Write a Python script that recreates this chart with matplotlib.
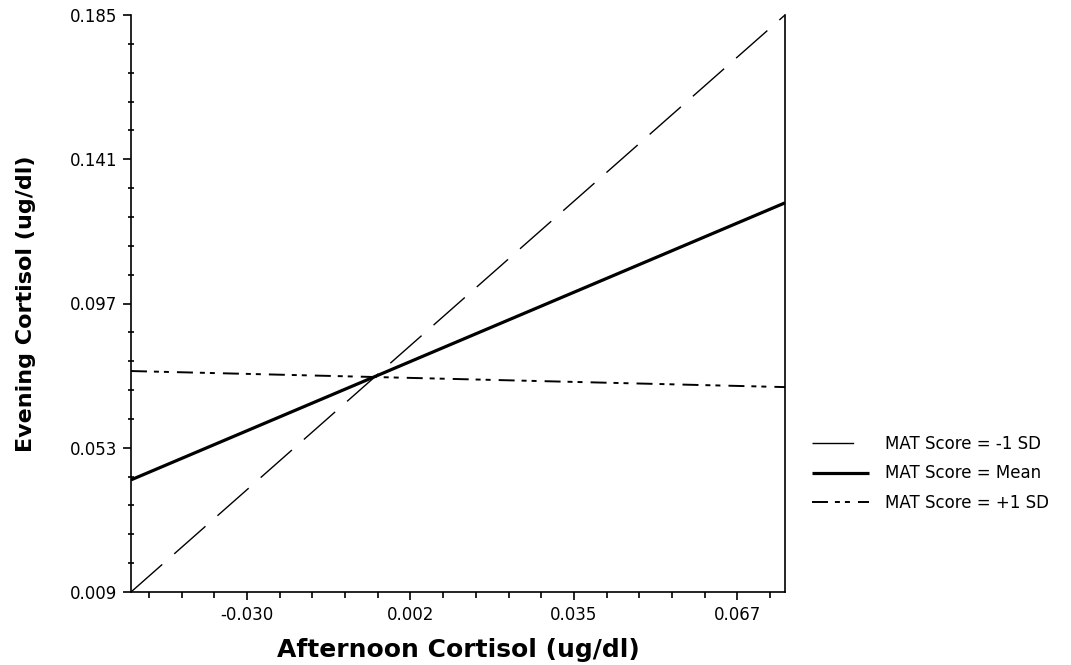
import matplotlib
matplotlib.use("Agg")
import matplotlib.pyplot as plt
from matplotlib.ticker import FixedLocator, MultipleLocator

# end points of the three simple-slope lines
afternoon = [-0.0531, 0.0770]
evening_low = [0.009, 0.185]      # MAT score = -1 SD
evening_mean = [0.0432, 0.1277]   # MAT score = mean
evening_high = [0.0764, 0.0715]   # MAT score = +1 SD

x_ticks = [-0.0300, 0.0025, 0.0350, 0.0675]
x_tick_labels = ["-0.030", "0.002", "0.035", "0.067"]
y_ticks = [0.009, 0.053, 0.097, 0.141, 0.185]
y_tick_labels = ["0.009", "0.053", "0.097", "0.141", "0.185"]

legend_labels = ["MAT Score = -1 SD", "MAT Score = Mean", "MAT Score = +1 SD"]

plt.rcParams.update({
    "font.family": ["DejaVu Sans"],
    "lines.scale_dashes": False,
    "axes.linewidth": 1.2,
})

fig = plt.figure(figsize=(10.71, 6.65), dpi=100)
ax = fig.add_axes([131 / 1071, 73 / 665, 654 / 1071, 577 / 665])

ax.plot(afternoon, evening_low, color="black", lw=1.0,
        linestyle=(0, (30, 11.5)), label=legend_labels[0])
ax.plot(afternoon, evening_mean, color="black", lw=2.3,
        solid_capstyle="butt", label=legend_labels[1])
ax.plot(afternoon, evening_high, color="black", lw=1.4,
        linestyle=(0, (11.5, 5, 3.6, 3.6, 3.6, 5.8)), label=legend_labels[2])

ax.set_xlim(afternoon[0], afternoon[1])
ax.set_ylim(0.009, 0.185)

ax.xaxis.set_major_locator(FixedLocator(x_ticks))
ax.set_xticklabels(x_tick_labels)
ax.xaxis.set_minor_locator(MultipleLocator(0.0065, offset=0.0025))
ax.yaxis.set_major_locator(FixedLocator(y_ticks))
ax.set_yticklabels(y_tick_labels)
ax.yaxis.set_minor_locator(MultipleLocator(0.0088, offset=0.009))

ax.tick_params(axis="both", which="major", direction="out", length=6, width=1.2,
               labelsize=12, pad=4, colors="black")
ax.tick_params(axis="y", which="minor", direction="inout", length=5, width=1.2)
ax.tick_params(axis="x", which="minor", direction="out", length=4, width=1.2)
ax.spines["top"].set_visible(False)

ax.set_xlabel("Afternoon Cortisol (ug/dl)", fontsize=18, fontweight="bold", labelpad=10)
ax.set_ylabel("Evening Cortisol (ug/dl)", fontsize=16, fontweight="bold", labelpad=24)

fig.legend(loc="upper left", bbox_to_anchor=(812 / 1071, (665 - 435) / 665),
           frameon=False, fontsize=12, handlelength=3.4, handletextpad=1.0,
           labelspacing=0.68, borderpad=0, borderaxespad=0)

fig.savefig("out.png", dpi=100)
